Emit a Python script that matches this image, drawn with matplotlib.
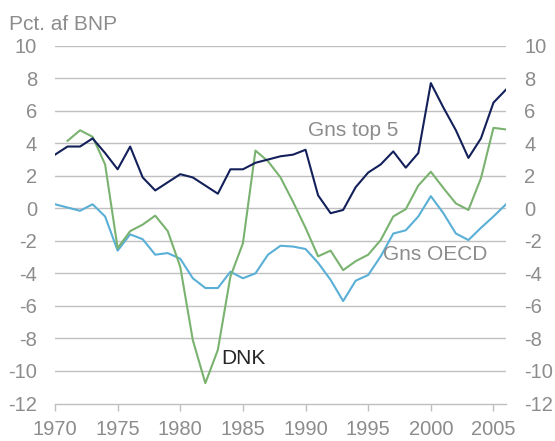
import numpy as np
import matplotlib
matplotlib.use("Agg")
import matplotlib.pyplot as plt

plt.rcParams['font.family'] = ['Liberation Sans', 'DejaVu Sans']
plt.rcParams['axes.unicode_minus'] = False

# Years on the x axis
years = list(range(1970, 2007))

# Gns top 5 (1970-2006)
top5 = [3.3, 3.8, 3.8, 4.3, 3.4, 2.4, 3.8, 1.9, 1.1, 1.6, 2.1, 1.9, 1.4, 0.9, 2.4,
        2.4, 2.8, 3.0, 3.2, 3.3, 3.6, 0.8, -0.3, -0.1, 1.3, 2.2, 2.7, 3.5, 2.5, 3.4,
        7.7, 6.2, 4.8, 3.1, 4.3, 6.5, 7.3]

# Gns OECD (1970-2006)
oecd = [0.25, 0.05, -0.15, 0.25, -0.5, -2.6, -1.6, -1.9, -2.85, -2.75, -3.1, -4.3,
        -4.9, -4.9, -3.9, -4.3, -4.0, -2.85, -2.3, -2.35, -2.5, -3.35, -4.4, -5.7,
        -4.45, -4.1, -2.95, -1.55, -1.35, -0.5, 0.75, -0.3, -1.55, -1.95, -1.2,
        -0.5, 0.25]

# DNK (1971-2006)
dnk_years = list(range(1971, 2007))
dnk = [4.15, 4.8, 4.4, 2.7, -2.45, -1.4, -1.0, -0.45, -1.4, -3.6, -8.1, -10.75,
       -8.7, -4.2, -2.15, 3.55, 2.9, 1.9, 0.4, -1.2, -2.95, -2.6, -3.8, -3.25, -2.85,
       -1.95, -0.5, -0.05, 1.4, 2.25, 1.25, 0.3, -0.1, 1.85, 4.95, 4.85]

yticks = list(range(-12, 11, 2))
xticks = list(range(1970, 2006, 5))

grey = '#8c8c8c'

fig = plt.figure(figsize=(5.55, 4.41), dpi=100)
ax = fig.add_axes([55 / 555, 37.5 / 441, 451 / 555, 357.8 / 441])

# gridlines
for v in yticks[1:]:
    ax.axhline(v, color='#c0c0c0', lw=1.0, zorder=1)

ax.plot(years, oecd, color='#5aafd6', lw=1.5, zorder=3)
ax.plot(dnk_years, dnk, color='#7ab26f', lw=1.5, zorder=3)
ax.plot(years, top5, color='#13205a', lw=1.5, zorder=4)

ax.set_xlim(1970, 2006)
ax.set_ylim(-12, 10)

for s in ['top', 'right', 'left']:
    ax.spines[s].set_visible(False)
ax.spines['bottom'].set_color('#bfbfbf')
ax.spines['bottom'].set_linewidth(1.0)

ax.set_xticks(xticks)
ax.tick_params(axis='x', direction='out', length=5, width=1, color='#bfbfbf',
               labelsize=14.5, labelcolor=grey, pad=7)
ax.set_yticks(yticks)
ax.tick_params(axis='y', length=0, labelsize=14.5, labelcolor=grey, pad=13,
               labelleft=True, labelright=True)

ax.text(1990.2, 4.45, 'Gns top 5', color=grey, fontsize=15, va='baseline')
ax.text(1996.2, -3.15, 'Gns OECD', color=grey, fontsize=15, va='baseline')
ax.text(1983.3, -9.55, 'DNK', color='#262626', fontsize=15, va='baseline')

fig.text(9 / 555, 1 - 30 / 441, 'Pct. af BNP', color=grey, fontsize=15, va='baseline')

fig.savefig('out.png', dpi=100)
